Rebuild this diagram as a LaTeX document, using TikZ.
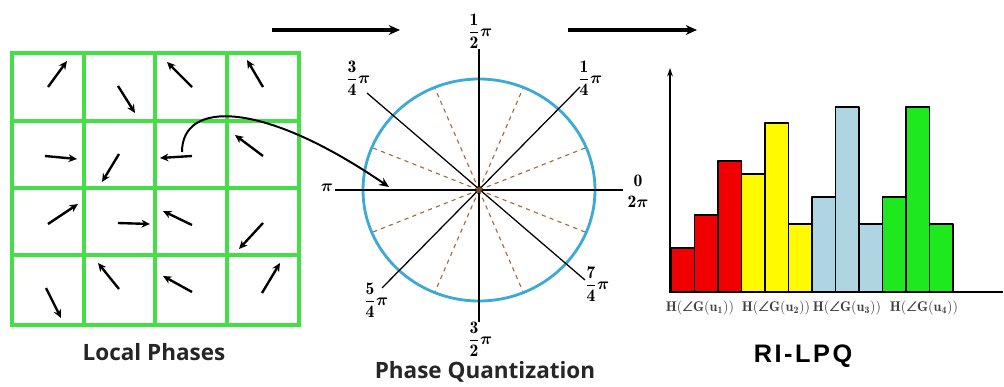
\documentclass[tikz,border=0pt]{standalone}
\usepackage{fontspec}
\usepackage{amsmath,amssymb,bm}
\newfontfamily\capfont{Open Sans}
\newfontfamily\titlefont[LetterSpace=10]{Liberation Sans}
\usetikzlibrary{arrows.meta}
\definecolor{gridgreen}{RGB}{70,222,70}
\definecolor{ringblue}{RGB}{60,170,212}
\definecolor{dashbrown}{RGB}{165,105,55}
\definecolor{barred}{RGB}{240,0,0}
\definecolor{baryellow}{RGB}{255,250,0}
\definecolor{barblue}{RGB}{175,212,226}
\definecolor{bargreen}{RGB}{30,232,30}
\newcommand{\qlabel}[2]{$\dfrac{\mathbf{#1}}{\mathbf{#2}}\bm{\pi}$}
\tikzset{
  gridline/.style={gridgreen, line width=2.2pt, line cap=rect},
  phase/.style={-{Stealth[length=6pt,width=5.5pt]}, line width=1.7pt},
  flow/.style={-{Stealth[length=8pt,width=7pt]}, line width=2.4pt},
  axisline/.style={line width=0.9pt},
  bar/.style={draw=black, line width=1.3pt},
  frac/.style={font=\fontsize{12.5}{14}\selectfont, inner sep=0pt},
  caption/.style={font=\capfont\bfseries\fontsize{16}{19}\selectfont, text=black!85},
  hlabel/.style={font=\fontsize{10}{12}\selectfont, text=black!75, inner sep=0pt}
}
\begin{document}
\begin{tikzpicture}[x=0.025cm, y=-0.025cm, line join=round]
\useasboundingbox (0,0) rectangle (1004,387);
% local phases grid
\foreach \x in {12,84,155,227,299} \draw[gridline] (\x,53) -- (\x,325);
\foreach \y in {53,121,188,255,325} \draw[gridline] (12,\y) -- (299,\y);
\foreach \xa/\ya/\xb/\yb in {48/87/67/61, 118/86/135/113, 192/87/167/62, 263/87/247/60,
  45/156/77/159, 119/154/102/182, 192/156/160/158, 263/156/235/135,
  48/224/78/204, 118/223/150/224, 192/225/163/211, 263/223/239/249,
  46/288/61/318, 119/289/98/263, 192/292/163/276, 262/293/280/263}
  \draw[phase] (\xa,\ya) -- (\xb,\yb);
\node[caption] (lp) at (154,352) {Local Phases};
% flow arrows
\coordinate (f1) at (272,30);
\coordinate (f2) at (400,30);
\coordinate (f3) at (568,30);
\coordinate (f4) at (697,30);
\draw[flow] (f1) -- (f2);
\draw[flow] (f3) -- (f4);
% phase quantization
\coordinate (O) at (479,190);
\foreach \a in {22.5,67.5,...,337.5}
  \draw[dashbrown, dashed, line width=0.8pt] (O) -- ++(\a:116 and 111);
\draw[ringblue, line width=2pt] (O) ellipse [x radius=116, y radius=111];
\draw[axisline] (335,190) -- (623,190) (479,49) -- (479,322);
\draw[axisline] (367,93) -- (585,280) (580,87) -- (382,288);
\fill[dashbrown!70!black] (O) circle (3);
\node[frac] (q1) at (480,31) {\qlabel{1}{2}};
\node[frac] (q3) at (358,78) {\qlabel{3}{4}};
\node[frac] (q2) at (590,78) {\qlabel{1}{4}};
\node[frac, align=center] (q0) at (638,191) {$\mathbf{0}$\\[1pt]$\mathbf{2}\bm{\pi}$};
\node[frac] (q4) at (327,188) {$\bm{\pi}$};
\node[frac] (q5) at (376,300) {\qlabel{5}{4}};
\node[frac] (q7) at (597,284) {\qlabel{7}{4}};
\node[frac] (q6) at (480,339) {\qlabel{3}{2}};
\node[caption] (pq) at (485,372) {Phase Quantization};
% mapping arrow
\coordinate (m1) at (182,152);
\coordinate (m2) at (389,187);
\draw[-{Stealth[length=7pt,width=6pt]}, line width=1.4pt] (m1) .. controls (182,100) and (262,100) .. (m2);
% histogram
\foreach \x/\h/\c in {671/248/barred, 694.5/215/barred, 718/161/barred,
  741.5/174/baryellow, 765/123/baryellow, 788.5/224/baryellow,
  812/197/barblue, 835.5/107/barblue, 859/224/barblue,
  882.5/197/bargreen, 906/107/bargreen, 929.5/224/bargreen}
  \draw[bar, fill=\c] (\x,292) rectangle (\x+23.5,\h);
\draw[-{Stealth[length=6pt,width=4pt]}, line width=1.3pt] (670,293) -- (670,68);
\draw[line width=1.3pt] (669,292) -- (1003,292);
\foreach \xl/\n in {700/1, 776/2, 847/3, 924/4}
  \node[hlabel] at (\xl,308) {$\mathbf{H}(\bm{\angle}\mathbf{G}(\mathbf{u}_{\mathbf{\n}}))$};
\node[font=\titlefont\bfseries\fontsize{18}{21}\selectfont] (ri) at (803,356) {RI-LPQ};
\end{tikzpicture}
\end{document}
